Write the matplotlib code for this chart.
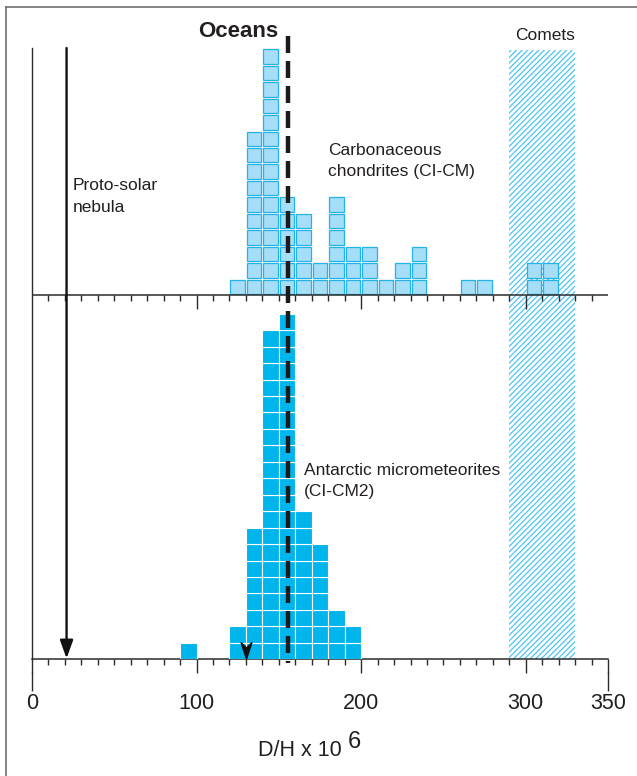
import numpy as np
import matplotlib
matplotlib.use('Agg')
import matplotlib.pyplot as plt
from matplotlib.lines import Line2D
from matplotlib.path import Path

plt.rcParams['font.family'] = ['Liberation Sans', 'DejaVu Sans']
plt.rcParams['hatch.linewidth'] = 0.9

# ---------------- data ----------------
cc_bin_left = [120, 130, 140, 150, 160, 170, 180, 190, 200, 210, 220, 230, 260, 270, 300, 310]
cc_counts = [1, 10, 15, 6, 5, 2, 6, 3, 3, 1, 2, 3, 1, 1, 2, 2]
amm_bin_left = [90, 120, 130, 140, 150, 160, 170, 180, 190]
amm_counts = [1, 2, 8, 20, 21, 9, 7, 3, 2]
bin_width = 10
oceans_dh = 155.76
protosolar_dh = 21
amm_marker_dh = 130
comets_range = [290, 330]
xtick_major = [0, 100, 200, 300, 350]
xtick_labels = ['0', '100', '200', '300', '350']

# ---------------- layout ----------------
W, H = 637, 776
fig = plt.figure(figsize=(W / 100, H / 100), dpi=100)
x0, x1 = 32.0, 608.0
y_base, y_top = 659.3, 20.0
ax = fig.add_axes([x0 / W, 1 - y_base / H, (x1 - x0) / W, (y_base - y_top) / H])
unit = (x1 - x0) / 350 * bin_width      # pixels per bin == pixels per count
ax.set_xlim(0, 350)
ax.set_ylim(0, (y_base - y_top) / unit)


def py(ypix):
    return (y_base - ypix) / unit


top_base = py(295.3)
ink = '#231f20'
axc = '#2b2b2b'

# comets band
ax.bar(np.mean(comets_range), py(50), width=comets_range[1] - comets_range[0], bottom=0,
       facecolor='white', edgecolor='#4cc5ef', hatch='//////', lw=0, zorder=1)

# carbonaceous chondrites (top)
for b, c in zip(cc_bin_left, cc_counts):
    for k in range(c):
        ax.bar(b + bin_width / 2, 0.88, width=bin_width * 0.88, bottom=top_base + k + 0.07,
               color='#a6ddf7', edgecolor='#22b4e8', lw=0.9, zorder=3)

# antarctic micrometeorites (bottom)
for b, c in zip(amm_bin_left, amm_counts):
    for k in range(c):
        ax.bar(b + bin_width / 2, 1, width=bin_width, bottom=k,
               color='#00b4ec', edgecolor='white', lw=0.8, zorder=3)

# oceans dashed line
lw_o = 3.2
ax.plot([oceans_dh, oceans_dh], [py(36), py(663)], color='#1a1a1a', lw=lw_o,
        dashes=(17 * 0.72 / lw_o, 8 * 0.72 / lw_o), solid_capstyle='butt',
        dash_capstyle='butt', zorder=6, clip_on=False)

# proto-solar arrow
ax.annotate('', xy=(protosolar_dh, 0.05), xytext=(protosolar_dh, py(48)),
            arrowprops=dict(arrowstyle='-|>,head_length=1.0,head_width=0.36',
                            color='#111111', lw=1.7, shrinkA=0, shrinkB=0,
                            mutation_scale=11), zorder=7)

# small chevron marker at 130
chev = Path([(0, -1), (-0.55, 0.7), (0, 0.15), (0.55, 0.7), (0, -1)],
            [Path.MOVETO, Path.LINETO, Path.LINETO, Path.LINETO, Path.CLOSEPOLY])
ax.plot([amm_marker_dh], [py(648.5)], marker=chev, markersize=14, color='#111111',
        lw=0, zorder=7)

# spines & bottom axis
for s in ['top', 'right']:
    ax.spines[s].set_visible(False)
ax.spines['left'].set_bounds(0, py(48))
ax.spines['left'].set_color(axc)
ax.spines['left'].set_linewidth(1.0)
ax.spines['bottom'].set_color(axc)
ax.spines['bottom'].set_linewidth(1.1)
ax.set_yticks([])
ax.set_xticks(xtick_major)
ax.set_xticklabels(xtick_labels)
ax.set_xticks(np.arange(10, 350, 10), minor=True)
ax.tick_params(axis='x', which='major', length=14 * 0.72, width=1.0, color=axc,
               labelsize=15.5, pad=14, labelcolor=ink)
ax.tick_params(axis='x', which='minor', length=6 * 0.72, width=1.0, color=axc)
for xv in (xtick_major[0], xtick_major[-1]):
    ax.plot([xv, xv], [py(672), py(691)], color=axc, lw=1.0, clip_on=False,
            solid_capstyle='butt')

# upper axis with ticks
ax.plot([0, 350], [top_base, top_base], color=axc, lw=1.1, zorder=4)
up_minor = [t for t in np.arange(10, 350, 10) if t % 100 != 0]
ax.vlines(up_minor, top_base - 6 / unit, top_base, color=axc, lw=1.0, zorder=4)
ax.vlines([100, 200, 300], top_base - 14 / unit, top_base, color=axc, lw=1.0, zorder=4)


# ---------------- text ----------------
def ft(x, y, s, **kw):
    kw.setdefault('color', ink)
    fig.text(x / W, 1 - y / H, s, **kw)


ft(278, 37, 'Oceans', ha='right', va='baseline', fontsize=16, fontweight='bold')
ft(545.5, 36, 'Comets', ha='center', va='center', fontsize=12.5)
ft(73, 190, 'Proto-solar', ha='left', va='baseline', fontsize=12.5)
ft(73, 212, 'nebula', ha='left', va='baseline', fontsize=12.5)
ft(328, 155, 'Carbonaceous', ha='left', va='baseline', fontsize=12.5)
ft(328, 176, 'chondrites (CI-CM)', ha='left', va='baseline', fontsize=12.5)
ft(304, 475, 'Antarctic micrometeorites', ha='left', va='baseline', fontsize=12.5)
ft(304, 496, '(CI-CM2)', ha='left', va='baseline', fontsize=12.5)
ft(258, 751, 'D/H x 10', ha='left', va='center', fontsize=15.5)
ft(348, 742, '6', ha='left', va='center', fontsize=17)

# figure frame (left and top)
fig.add_artist(Line2D([5.7 / W, 5.7 / W], [0, 1 - 7.3 / H], color='#707070', lw=1.2))
fig.add_artist(Line2D([5.7 / W, 1], [1 - 7.3 / H, 1 - 7.3 / H], color='#707070', lw=1.2))

fig.savefig('out.png', dpi=100)
